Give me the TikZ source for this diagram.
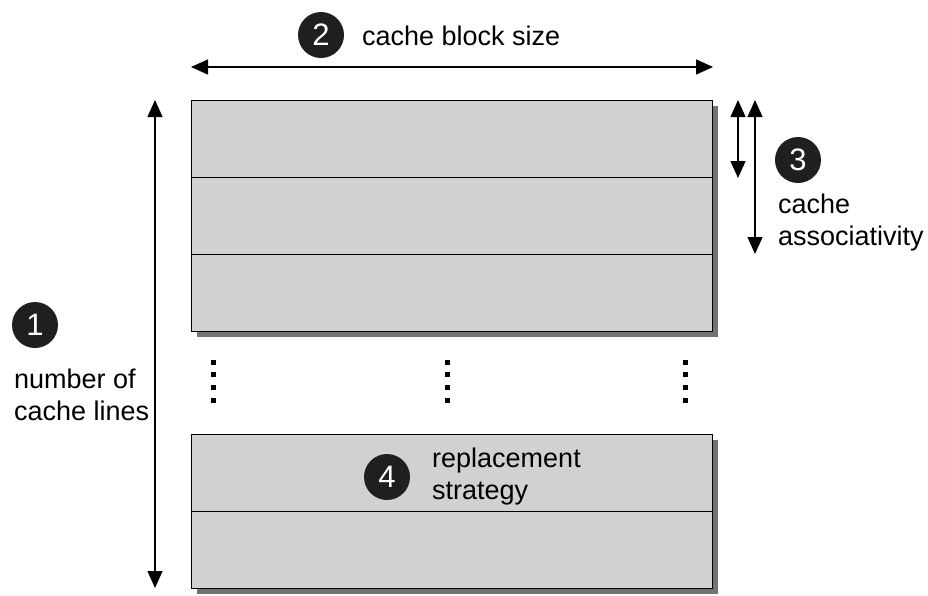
\documentclass[tikz,border=0pt]{standalone}
\usepackage{fontspec}
\setmainfont{Liberation Sans}
\usetikzlibrary{arrows.meta}
\begin{document}
\begin{tikzpicture}
        [x=1pt,y=-1pt,
        line/.style={draw=black,fill=black!18,line width=1.2pt,minimum width=521pt,minimum height=77pt,anchor=north west,inner sep=0pt},
        num/.style={circle,fill=black!88,text=white,minimum size=46pt,inner sep=0pt,font=\fontsize{31}{31}\selectfont},
        lbl/.style={anchor=west,align=left,inner sep=0pt,font=\fontsize{27}{32}\selectfont},
        dim/.style={{Triangle[length=17pt,width=15pt]}-{Triangle[length=17pt,width=15pt]},line width=1.2pt},
        dot/.style={fill=black,minimum size=5pt,inner sep=0pt}]
        \useasboundingbox (0,0) rectangle (928,595);
        %Upper cache lines
        \fill[black!55] (197,106) rectangle (718,337);
        \node[line] (L1) at (191,100) {};
        \node[line] (L2) at (191,177) {};
        \node[line] (L3) at (191,254) {};
        %Lower cache lines
        \fill[black!55] (197,440) rectangle (718,594);
        \node[line] (LN-1) at (191,434) {};
        \node[line] (LN) at (191,511) {};

        %Dots
        \foreach \x in {213,447,685}
            \foreach \y in {362,374,387,400}
                \node[dot] at (\x,\y) {};

        %Dimensions
        \coordinate (W1) at (191,67);
        \coordinate (W2) at (713,67);
        \draw[dim] (W1) -- (W2);
        \coordinate (H1) at (155,100);
        \coordinate (H2) at (155,588);
        \draw[dim] (H1) -- (H2);
        \coordinate (A1) at (738,100);
        \coordinate (A2) at (738,178);
        \draw[dim] (A1) -- (A2);
        \coordinate (B1) at (755,100);
        \coordinate (B2) at (755,254);
        \draw[dim] (B1) -- (B2);

        %Labels
        \node[num] (N1) at (35,325) {1};
        \node[lbl] (T1) at (14,395) {number of\\cache lines};
        \node[num] (N2) at (321,35) {2};
        \node[lbl] (T2) at (362,36) {cache block size};
        \node[num] (N3) at (798,160) {3};
        \node[lbl] (T3) at (778,223) {cache\\associativity};
        \node[num] (N4) at (387,477) {4};
        \node[lbl] (T4) at (432,477) {replacement\\strategy};
    \end{tikzpicture}
\end{document}
